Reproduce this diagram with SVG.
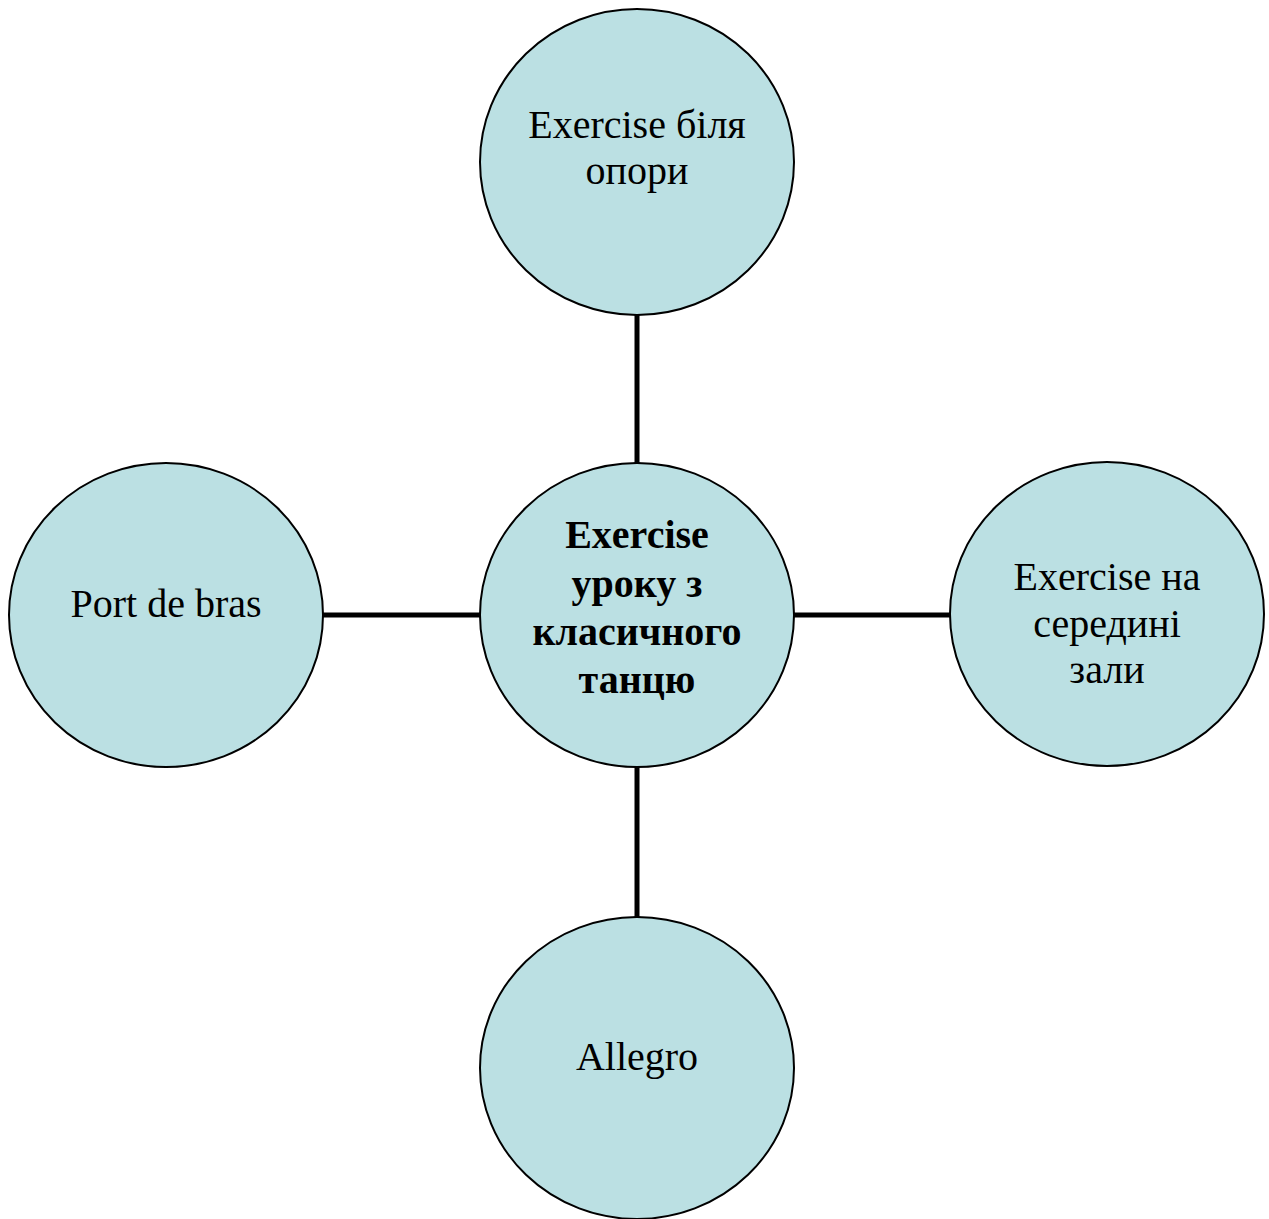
<svg xmlns="http://www.w3.org/2000/svg" width="1269" height="1219" viewBox="0 0 1269 1219">
<style>
.node{fill:#bbe0e3;stroke:#000;stroke-width:2}
.t{font-family:"Liberation Serif","Times New Roman",serif;font-size:40px;fill:#000;text-anchor:middle}
.b{font-weight:bold}
.conn{stroke:#000;stroke-width:5;fill:none}
</style>
<rect width="1269" height="1219" fill="#fff"/>
<g id="connectors">
<line class="conn" x1="637" y1="315" x2="637" y2="464"/>
<line class="conn" x1="637" y1="767" x2="637" y2="918"/>
<line class="conn" x1="323" y1="615" x2="480" y2="615"/>
<line class="conn" x1="794" y1="615" x2="950" y2="615"/>
</g>
<g id="node-top">
<ellipse class="node" cx="637" cy="162" rx="157" ry="153"/>
<text class="t" x="637" y="138">Exercise біля</text>
<text class="t" x="637" y="184">опори</text>
</g>
<g id="node-center">
<ellipse class="node" cx="637" cy="615" rx="157" ry="152"/>
<text class="t b" x="637" y="548">Exercise</text>
<text class="t b" x="637" y="597">уроку з</text>
<text class="t b" x="637" y="645">класичного</text>
<text class="t b" x="637" y="693">танцю</text>
</g>
<g id="node-left">
<ellipse class="node" cx="166" cy="615" rx="157" ry="152"/>
<text class="t" x="166" y="617">Port de bras</text>
</g>
<g id="node-right">
<ellipse class="node" cx="1107" cy="614" rx="157" ry="152"/>
<text class="t" x="1107" y="590">Exercise на</text>
<text class="t" x="1107" y="637">середині</text>
<text class="t" x="1107" y="683">зали</text>
</g>
<g id="node-bottom">
<ellipse class="node" cx="637" cy="1068" rx="157" ry="151"/>
<text class="t" x="637" y="1070">Allegro</text>
</g>
</svg>
